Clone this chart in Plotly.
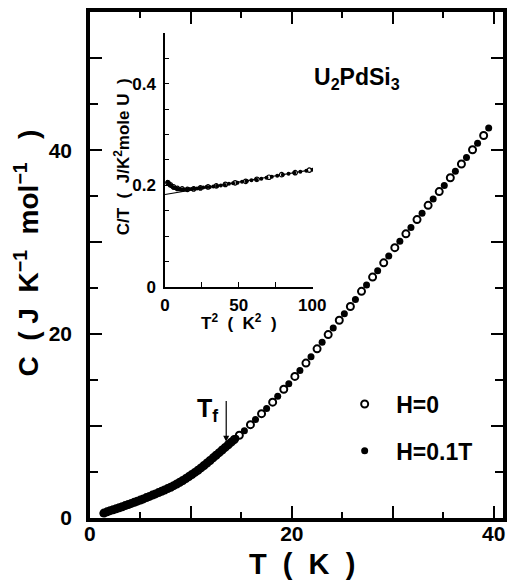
import plotly.graph_objects as go

# ---------------- main panel data: C (J K^-1 mol^-1) vs T (K) ----------------
T_h0 = [1.4, 1.7, 2.0, 2.3, 2.6, 2.9, 3.2, 3.5, 3.8, 4.1, 4.4, 4.7, 5.0, 5.3, 5.6, 5.9,
        6.2, 6.5, 6.8, 7.1, 7.4, 7.7, 8.0, 8.3, 8.6, 8.9, 9.2, 9.5, 9.8, 10.1, 10.4, 10.7,
        11.0, 11.3, 11.6, 11.9, 12.2, 12.5, 12.8, 13.1, 13.4, 13.7, 14.0, 14.3,
        14.8, 15.9, 17.0, 18.1, 19.2, 20.3, 21.4, 22.5, 23.6, 24.7, 25.8, 26.9, 28.0,
        29.1, 30.2, 31.3, 32.4, 33.5, 34.6, 35.7, 36.8, 37.9, 39.0]
C_h0 = [0.55, 0.67, 0.8, 0.9, 1.0, 1.12, 1.23, 1.35, 1.47, 1.59, 1.71, 1.83, 1.95, 2.08, 2.22, 2.35,
        2.49, 2.62, 2.76, 2.9, 3.05, 3.2, 3.35, 3.52, 3.70, 3.89, 4.08, 4.29, 4.50, 4.73, 4.96, 5.20,
        5.45, 5.71, 5.98, 6.26, 6.54, 6.83, 7.11, 7.40, 7.68, 7.97, 8.25, 8.54,
        9.0, 10.15, 11.35, 12.6, 14.0, 15.4, 16.85, 18.4, 19.95, 21.5, 23.0, 24.65, 26.2,
        27.75, 29.4, 30.9, 32.45, 34.0, 35.5, 37.0, 38.5, 40.05, 41.6]

T_h01 = [1.3, 1.55, 1.85, 2.15, 2.45, 2.75, 3.05, 3.35, 3.65, 3.95, 4.25, 4.55, 4.85, 5.15, 5.45,
         5.75, 6.05, 6.35, 6.65, 6.95, 7.25, 7.55, 7.85, 8.15, 8.45, 8.75, 9.05, 9.35, 9.65, 9.95,
         10.25, 10.55, 10.85, 11.15, 11.45, 11.75, 12.05, 12.35, 12.65, 12.95, 13.25, 13.55, 13.85,
         14.15, 14.45,
         15.3, 16.4, 17.5, 18.6, 19.7, 20.8, 21.9, 23.0, 24.1, 25.2, 26.3, 27.4, 28.5, 29.6,
         30.7, 31.8, 32.9, 34.0, 35.1, 36.2, 37.3, 38.4, 39.5]
C_h01 = [0.5, 0.61, 0.74, 0.85, 0.95, 1.06, 1.17, 1.29, 1.41, 1.53, 1.65, 1.77, 1.89, 2.02, 2.15,
         2.29, 2.42, 2.56, 2.69, 2.83, 2.97, 3.12, 3.27, 3.43, 3.61, 3.79, 3.98, 4.18, 4.39, 4.61,
         4.84, 5.08, 5.32, 5.58, 5.84, 6.12, 6.40, 6.68, 6.97, 7.25, 7.54, 7.82, 8.11,
         8.39, 8.68,
         9.5, 10.7, 11.9, 13.25, 14.6, 16.05, 17.55, 19.1, 20.65, 22.2, 23.75, 25.35, 26.9, 28.5,
         30.1, 31.6, 33.15, 34.7, 36.15, 37.7, 39.2, 40.75, 42.4]

# ---------------- inset data: C/T (J/K^2 mole U) vs T^2 (K^2) ----------------
T2_in_h0 = [1.96, 3.6, 5.8, 8.4, 11.6, 15.2, 19.4, 24.0, 29.2, 34.8, 41.0, 47.6, 54.8,
            62.4, 70.6, 79.2, 88.4, 98.0]
CT_in_h0 = [0.205, 0.201, 0.197, 0.194, 0.193, 0.192, 0.193, 0.195, 0.197, 0.199, 0.202,
            0.205, 0.208, 0.212, 0.216, 0.221, 0.225, 0.230]
T2_in_h01 = [1.7, 2.3, 3.0, 3.8, 4.6, 5.6, 6.6, 7.7, 8.9, 10.2, 11.6, 13.0, 14.6, 16.2, 18.0,
             19.8, 21.7, 23.8, 25.9, 28.1, 30.4, 32.8, 35.3, 37.9, 40.6, 43.4, 46.2, 49.2,
             52.3, 55.4, 58.7, 62.0, 65.4, 68.9, 72.5, 76.2, 80.0, 83.9, 87.8, 91.9, 96.0, 100.2]
CT_in_h01 = [0.207, 0.204, 0.202, 0.200, 0.198, 0.196, 0.195, 0.194, 0.193, 0.192, 0.192,
             0.192, 0.192, 0.193, 0.193, 0.194, 0.194, 0.195, 0.196, 0.197, 0.197, 0.198,
             0.199, 0.200, 0.201, 0.203, 0.204, 0.205, 0.207, 0.208, 0.210, 0.211, 0.213,
             0.215, 0.217, 0.219, 0.221, 0.223, 0.225, 0.227, 0.229, 0.231]
fit_T2 = [0, 100]
fit_CT = [0.182, 0.231]

# tick labels
main_x_ticks = [0, 10, 20, 30, 40]
main_x_text = ["0", "", "20", "", "40"]
main_y_ticks = [0, 10, 20, 30, 40, 50]
main_y_text = ["0", "", "20", "", "40", ""]
in_x_ticks = [0, 25, 50, 75, 100]
in_x_text = ["0", "", "50", "", "100"]
in_y_ticks = [0, 0.05, 0.1, 0.15, 0.2, 0.25, 0.3, 0.35, 0.4, 0.45, 0.5]
in_y_text = ["0", "", "", "", "0.2", "", "", "", "0.4", "", ""]

FONT = "Liberation Sans, Arial, Helvetica, sans-serif"

fig = go.Figure()
fig.add_trace(go.Scatter(x=T_h0, y=C_h0, mode="markers", name="H=0", legendgroup="a",
                         marker=dict(symbol="circle", size=7, color="white",
                                     line=dict(color="black", width=2))))
fig.add_trace(go.Scatter(x=T_h01, y=C_h01, mode="markers", name="H=0.1T", legendgroup="b",
                         marker=dict(symbol="circle", size=7, color="black",
                                     line=dict(color="black", width=0))))
# inset
fig.add_trace(go.Scatter(x=fit_T2, y=fit_CT, mode="lines", xaxis="x2", yaxis="y2",
                         line=dict(color="black", width=1.2), showlegend=False))
fig.add_trace(go.Scatter(x=T2_in_h0, y=CT_in_h0, mode="markers", xaxis="x2", yaxis="y2",
                         showlegend=False,
                         marker=dict(symbol="circle", size=4.5, color="white",
                                     line=dict(color="black", width=1.2))))
fig.add_trace(go.Scatter(x=T2_in_h01, y=CT_in_h01, mode="markers", xaxis="x2", yaxis="y2",
                         showlegend=False,
                         marker=dict(symbol="circle", size=4, color="black",
                                     line=dict(width=0))))

tickfont_main = dict(family=FONT, size=21, color="black", weight="bold")
tickfont_in = dict(family=FONT, size=17, color="black", weight="bold")

fig.update_layout(
    width=511, height=584,
    margin=dict(l=0, r=0, t=0, b=0, pad=0, autoexpand=False),
    paper_bgcolor="white", plot_bgcolor="white",
    font=dict(family=FONT, color="black"),
    xaxis=dict(domain=[0.176, 0.984], range=[0, 40.9], showline=True, linewidth=3.5,
               linecolor="black", mirror="allticks", ticks="inside", tickvals=main_x_ticks,
               ticktext=main_x_text, ticklen=12, tickwidth=2, tickcolor="black",
               minor=dict(tickvals=[5, 15, 25, 35], ticklen=6, tickwidth=2, tickcolor="black", ticks="inside"),
               showgrid=False, zeroline=False, tickfont=tickfont_main, ticklabelstandoff=-6,
               automargin=False),
    yaxis=dict(domain=[0.113, 0.979], range=[0, 55], showline=True, linewidth=3.5,
               linecolor="black", mirror="allticks", ticks="inside", tickvals=main_y_ticks,
               ticktext=main_y_text, ticklen=12, tickwidth=2, tickcolor="black",
               minor=dict(tickvals=[5, 15, 25, 35, 45], ticklen=8, tickwidth=2, tickcolor="black", ticks="inside"),
               showgrid=False, zeroline=False, tickfont=tickfont_main, ticklabelstandoff=10,
               automargin=False),
    xaxis2=dict(domain=[0.323, 0.6125], range=[0, 100.5], anchor="y2", showline=True,
                linewidth=1.5, linecolor="black", ticks="inside", tickvals=in_x_ticks,
                ticktext=in_x_text, ticklen=5, tickwidth=1.2, tickcolor="black",
                showgrid=False, zeroline=False, tickfont=tickfont_in, ticklabelstandoff=2,
                automargin=False),
    yaxis2=dict(domain=[0.5086, 0.9435], range=[0, 0.5], anchor="x2", showline=True,
                linewidth=1.5, linecolor="black", ticks="inside", tickvals=in_y_ticks,
                ticktext=in_y_text, ticklen=4, tickwidth=1.2, tickcolor="black",
                showgrid=False, zeroline=False, tickfont=tickfont_in, ticklabelstandoff=4,
                automargin=False),
    legend=dict(x=0.652, y=0.345, xanchor="left", yanchor="top", bgcolor="rgba(0,0,0,0)",
                font=dict(family=FONT, size=23, color="black", weight="bold"),
                traceorder="grouped", tracegroupgap=14, itemwidth=53),
    showlegend=True,
)

def lbl(text, x, y, size, angle=0, xref="paper", yref="paper"):
    return dict(text=text, x=x, y=y, xref=xref, yref=yref, showarrow=False, textangle=angle,
                xanchor="center", yanchor="middle",
                font=dict(family=FONT, size=size, color="black", weight="bold"))

ann = [
    lbl("T  (  K  )", 0.591, 0.034, 29),
    lbl("C  ( J  K<sup>−1</sup>  mol<sup>−1</sup>   )", 0.053, 0.566, 28, angle=-90),
    lbl("C/T  (  J/K<sup>2</sup>mole U  )", 0.239, 0.731, 17, angle=-90),
    lbl("T<sup>2</sup>  (  K<sup>2</sup>  )", 0.468, 0.449, 17),
    lbl("U<sub>2</sub>PdSi<sub>3</sub>", 0.699, 0.866, 23),
    lbl("T<sub>f</sub>", 11.6, 11.8, 25, xref="x", yref="y"),
    dict(text="", x=13.5, y=8.3, ax=13.5, ay=12.9, xref="x", yref="y", axref="x", ayref="y",
         showarrow=True, arrowhead=2, arrowsize=1, arrowwidth=1.2, arrowcolor="black"),
]
fig.update_layout(annotations=ann)

fig.write_html("out.html")
